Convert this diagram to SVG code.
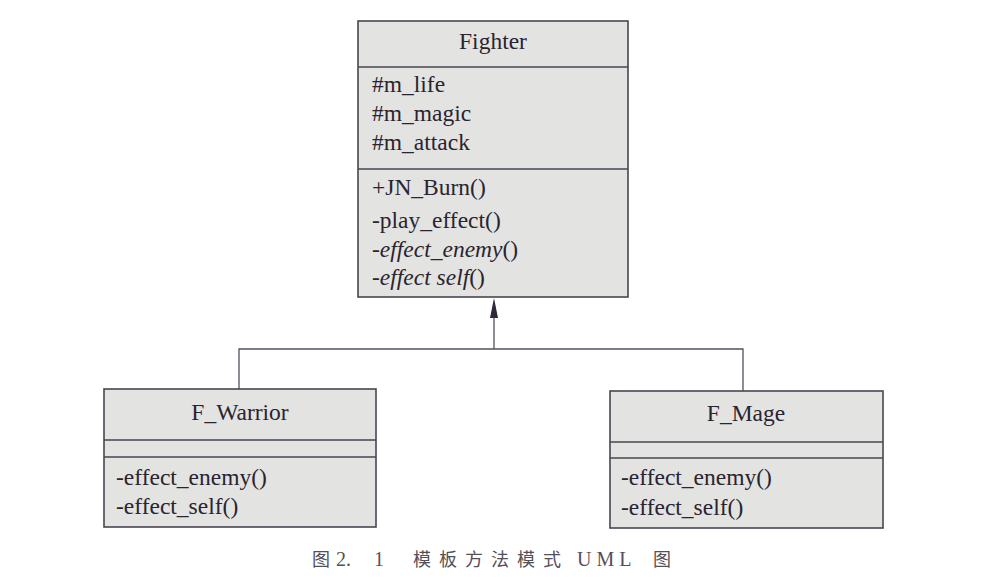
<svg xmlns="http://www.w3.org/2000/svg" width="982" height="580" viewBox="0 0 982 580">
  <style>
    .box { fill: #e3e3e1; stroke: #4a4452; stroke-width: 1.6; }
    .div { stroke: #4a4452; stroke-width: 1.6; fill: none; }
    .t { font-family: "Liberation Serif", "Times New Roman", serif; font-size: 23.5px; fill: #2a2430; }
    .c { text-anchor: middle; }
    .i { font-style: italic; }
    .conn { stroke: #55505e; stroke-width: 1.3; fill: none; }
    .head { fill: #2e2838; stroke: none; }
    .cap { font-family: "Noto Sans CJK SC", "Liberation Serif", sans-serif; font-size: 18px; fill: #555058; }
    .capn { font-family: "Liberation Serif", serif; font-size: 20px; }
  </style>
  <rect width="982" height="580" fill="#ffffff"/>

  <g id="connectors">
    <polyline class="conn" points="239,389 239,349 743,349 743,391"/>
    <line class="conn" x1="494" y1="349" x2="494" y2="316"/>
    <polygon class="head" points="494,298 498,318 490,318"/>
  </g>

  <g id="Fighter">
    <rect class="box" x="358" y="21" width="270" height="276"/>
    <line class="div" x1="358" y1="67" x2="628" y2="67"/>
    <line class="div" x1="358" y1="169" x2="628" y2="169"/>
    <text class="t c" x="493" y="49">Fighter</text>
    <text class="t" x="372" y="92">#m_life</text>
    <text class="t" x="372" y="121">#m_magic</text>
    <text class="t" x="372" y="150">#m_attack</text>
    <text class="t" x="372" y="195">+JN_Burn()</text>
    <text class="t" x="372" y="228">-play_effect()</text>
    <text class="t" x="372" y="257">-<tspan class="i">effect_enemy</tspan>()</text>
    <text class="t" x="372" y="285">-<tspan class="i">effect self</tspan>()</text>
  </g>

  <g id="F_Warrior">
    <rect class="box" x="104" y="389" width="272" height="138"/>
    <line class="div" x1="104" y1="440" x2="376" y2="440"/>
    <line class="div" x1="104" y1="457" x2="376" y2="457"/>
    <text class="t c" x="240" y="420">F_Warrior</text>
    <text class="t" x="116" y="485">-effect_enemy()</text>
    <text class="t" x="116" y="514">-effect_self()</text>
  </g>

  <g id="F_Mage">
    <rect class="box" x="610" y="391" width="273" height="137"/>
    <line class="div" x1="610" y1="442" x2="883" y2="442"/>
    <line class="div" x1="610" y1="458" x2="883" y2="458"/>
    <text class="t c" x="746" y="421">F_Mage</text>
    <text class="t" x="621" y="485">-effect_enemy()</text>
    <text class="t" x="621" y="515">-effect_self()</text>
  </g>

  <g id="caption">
    <text class="cap" y="566"><tspan x="312">图</tspan><tspan class="capn" x="336">2.</tspan><tspan class="capn" x="374">1</tspan><tspan x="413" style="letter-spacing:8px">模板方法模式</tspan><tspan class="capn" x="577" style="letter-spacing:5px">UML</tspan><tspan x="653">图</tspan></text>
  </g>
</svg>
